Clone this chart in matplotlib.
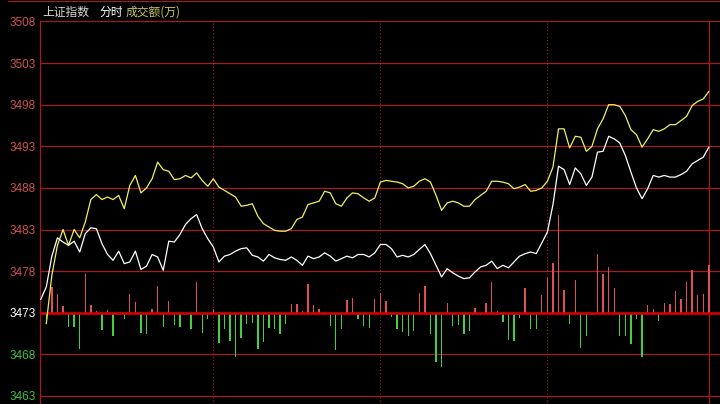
import numpy as np
import matplotlib.pyplot as plt

# previous close, also the zero line for the turnover bars
prev_close = 3473

# index level, one point every two minutes
price = [
    3474.6, 3476.1, 3479.8, 3482.0, 3481.5, 3481.1, 3481.6, 3480.3, 3482.5, 3483.2,
    3483.1, 3481.3, 3480.0, 3479.3, 3480.4, 3478.9, 3479.1, 3480.4, 3478.2, 3478.6,
    3480.0, 3479.7, 3478.1, 3481.6, 3481.5, 3482.4, 3483.6, 3484.3, 3484.8, 3483.1,
    3481.9, 3480.9, 3479.1, 3479.8, 3480.0, 3480.4, 3480.7, 3480.8, 3479.9, 3479.7,
    3479.2, 3480.0, 3479.6, 3479.4, 3479.3, 3479.7, 3479.3, 3478.7, 3479.8, 3479.5,
    3479.7, 3480.2, 3479.8, 3479.2, 3479.5, 3479.8, 3479.6, 3480.0, 3480.0, 3479.7,
    3480.2, 3481.2, 3481.2, 3480.7, 3479.7, 3479.9, 3479.7, 3480.0, 3480.6, 3481.2,
    3480.1, 3478.7, 3477.3, 3478.3, 3477.8, 3477.4, 3477.1, 3477.2, 3477.9, 3478.5,
    3478.7, 3479.2, 3478.3, 3478.7, 3478.4, 3479.1, 3479.8, 3480.1, 3480.3, 3480.1,
    3481.4, 3482.7, 3486.0, 3490.6, 3490.2, 3488.4, 3490.4, 3489.7, 3488.3, 3489.3,
    3492.3, 3492.4, 3494.2, 3493.9, 3493.4, 3491.9, 3489.9, 3488.0, 3486.7, 3487.9,
    3489.5, 3489.3, 3489.5, 3489.3, 3489.3, 3489.6, 3490.0, 3490.9, 3491.3, 3491.7,
    3492.9,
]

# yellow line (unweighted index), starts one step later
avg_price = [
    np.nan, 3471.7, 3477.5, 3481.1, 3483.0, 3481.1, 3483.0, 3482.0, 3483.9, 3486.6,
    3487.2, 3486.6, 3486.9, 3486.6, 3487.1, 3485.5, 3488.3, 3489.5, 3487.4, 3488.0,
    3489.1, 3491.1, 3490.2, 3490.0, 3489.0, 3489.1, 3489.5, 3489.2, 3489.8, 3488.9,
    3488.2, 3489.1, 3488.1, 3487.7, 3487.3, 3486.9, 3485.8, 3485.9, 3486.1, 3484.6,
    3483.7, 3483.3, 3482.9, 3482.8, 3482.8, 3483.1, 3484.2, 3484.5, 3486.0, 3486.2,
    3486.4, 3487.6, 3487.4, 3486.1, 3485.8, 3486.8, 3487.4, 3487.3, 3486.8, 3486.4,
    3486.8, 3488.7, 3488.9, 3488.8, 3488.7, 3488.5, 3488.0, 3488.2, 3488.8, 3489.1,
    3488.7, 3487.1, 3485.3, 3486.2, 3486.4, 3486.2, 3485.8, 3485.8, 3486.6, 3487.1,
    3487.6, 3488.8, 3488.8, 3488.7, 3488.5, 3487.9, 3488.1, 3488.4, 3487.6, 3487.7,
    3488.0, 3488.8, 3490.5, 3495.1, 3495.1, 3492.8, 3494.2, 3494.1, 3492.4, 3493.0,
    3495.1, 3496.3, 3498.0, 3498.0, 3497.8, 3496.7, 3495.0, 3494.4, 3492.9, 3493.9,
    3495.0, 3494.8, 3495.1, 3495.6, 3495.6, 3496.1, 3496.6, 3497.9, 3498.4, 3498.7,
    3499.6,
]

# turnover change bars, in index points above / below the previous close
flow = [
    0.0, -0.8, 3.1, 2.2, 0.8, -1.7, -1.7, -4.4, 4.7, 0.9,
    0.2, -2.1, 0.3, -2.8, -0.3, -0.7, 2.3, 1.3, -2.4, -2.5,
    0.4, 3.2, -1.7, 1.4, -1.5, -1.7, -0.2, -1.9, 3.7, -2.4,
    -0.7, 0.4, -3.6, -1.9, -3.4, -5.3, -3.0, -1.4, -1.2, -4.3,
    -3.5, -1.8, -2.0, -2.5, -1.3, 1.1, 1.0, 0.2, 3.5, 0.9,
    0.5, -0.3, -1.6, -4.5, -2.0, 1.5, 1.8, -0.7, -1.6, -1.8,
    1.6, 2.4, 1.4, -0.5, -2.0, -2.3, -2.8, -2.2, 2.4, 3.2,
    -2.5, -5.9, -6.5, 1.2, -1.6, -1.5, -2.6, -2.2, 0.6, -0.3,
    1.2, 3.7, 0.2, -1.1, -3.3, -3.4, -0.6, 3.0, -1.9, -1.9,
    2.1, 4.2, 6.0, 11.7, 2.7, -1.3, 3.9, -4.2, -2.8, -0.3,
    7.0, 4.7, 5.5, 3.0, -2.8, -2.8, -3.7, -0.8, -5.3, 0.9,
    0.4, -1.0, 1.2, 1.1, 2.6, 1.6, 3.7, 5.1, 2.1, 2.3,
    5.7,
]

y_ticks = [3508, 3503, 3498, 3493, 3488, 3483, 3478, 3473, 3468, 3463]
session_marks = [31, 61, 91]

plt.rcParams['font.family'] = ['Liberation Sans', 'Noto Sans CJK SC', 'DejaVu Sans']

grid_red = '#a51c1c'
up_red = '#e05050'
down_green = '#40d040'

fig = plt.figure(figsize=(7.2, 4.04), dpi=100, facecolor='black')
ax = fig.add_axes([40 / 720, 0, 680 / 720, 383 / 404])
ax.set_facecolor('black')

x = np.arange(len(price))

for v in y_ticks:
    if v != prev_close:
        ax.axhline(v, color=grid_red, lw=0.9, zorder=1)
for m in session_marks:
    ax.axvline(m, color=grid_red, lw=0.8, ls=(0, (1, 2)), zorder=1)
ax.axvline(len(price) - 1, color=grid_red, lw=0.9, zorder=1)

flow = np.array(flow)
bar_colors = [up_red if f > 0 else down_green for f in flow]
ax.bar(x, flow, bottom=prev_close, width=0.24, color=bar_colors,
       linewidth=0, antialiased=False, zorder=2)
ax.axhline(prev_close, color='#d40000', lw=1.9, zorder=3)

ax.plot(x, avg_price, color='#f0f060', lw=0.9, zorder=4)
ax.plot(x, price, color='white', lw=0.9, zorder=5)

ax.set_xlim(-0.13, 122.0)
ax.set_ylim(3462.03, 3508.06)

ax.set_xticks([])
ax.set_yticks(y_ticks)
ax.set_yticklabels([str(v) for v in y_ticks], fontsize=8.5)
ax.tick_params(axis='y', length=0, pad=3)
for lab, v in zip(ax.get_yticklabels(), y_ticks):
    if v > prev_close:
        lab.set_color('#d05050')
    elif v == prev_close:
        lab.set_color('white')
    else:
        lab.set_color('#40c040')

for side in ['top', 'right', 'bottom']:
    ax.spines[side].set_visible(False)
ax.spines['left'].set_color(grid_red)
ax.spines['left'].set_linewidth(0.9)

# header strip
fig.add_artist(plt.Line2D([8 / 720, 1], [1 - 1 / 404, 1 - 1 / 404], color=grid_red, lw=0.8))
cjk = ['Noto Sans CJK SC', 'DejaVu Sans']
ty = 1 - 12.5 / 404
fig.text(42 / 720, ty, '上证指数', color='#d8d8d8', fontsize=8.5, family=cjk, va='center')
fig.text(99 / 720, ty, '分时', color='white', fontsize=8.5, family=cjk, va='center')
fig.text(126 / 720, ty, '成交额(万)', color='#c8c860', fontsize=8.5, family=cjk, va='center')

fig.savefig('out.png', dpi=100, facecolor='black')
